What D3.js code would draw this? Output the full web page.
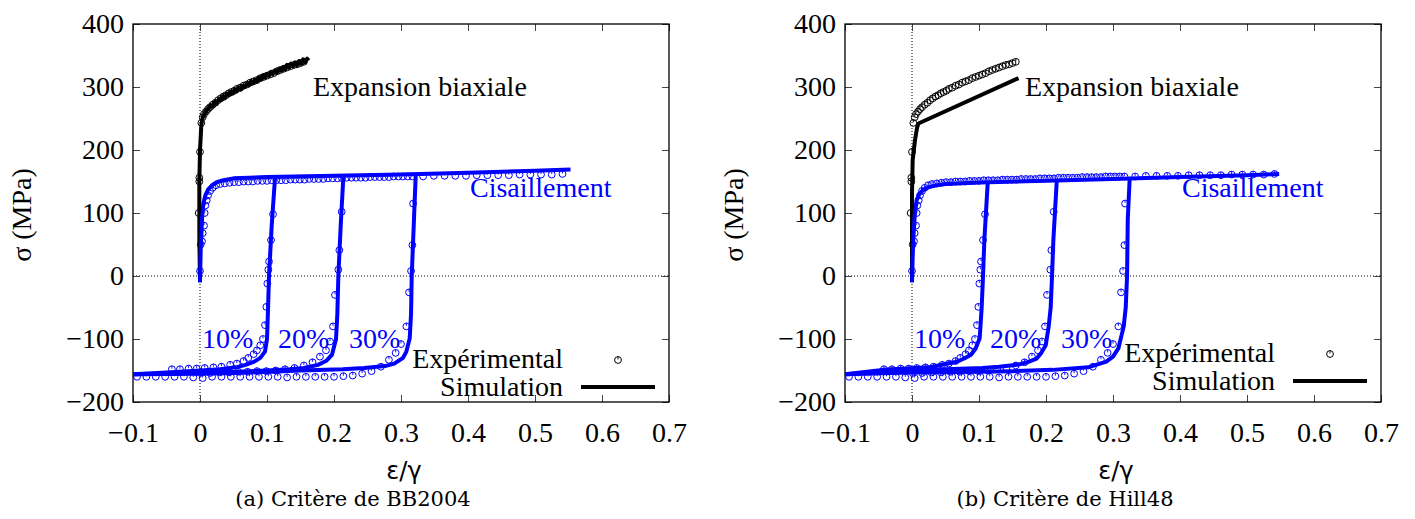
<!DOCTYPE html>
<html>
<head>
<meta charset="utf-8">
<script src="https://cdn.jsdelivr.net/npm/d3@7"></script>
<style>
body { margin: 0; background: #fff; }
</style>
</head>
<body>
<script>
// axis ticks
var xTicks = [-0.1, 0, 0.1, 0.2, 0.3, 0.4, 0.5, 0.6, 0.7];
var yTicks = [-200, -100, 0, 100, 200, 300, 400];

// experimental points (same tests in both panels)  [strain, stress MPa]
var biaxExp = [[-0.002,100],[-0.001,150],[-0.001,156],[0.0,197],[0.002,243],[0.004,252],[0.006,257],[0.009,261],[0.012,265],[0.015,268],[0.019,272],[0.023,275],[0.027,279],[0.031,282],[0.035,285],[0.039,287],[0.043,290],[0.047,292],[0.051,294],[0.055,297],[0.06,299],[0.065,302],[0.07,304],[0.075,307],[0.08,309],[0.085,311],[0.09,314],[0.095,316],[0.1,318],[0.105,320],[0.11,322],[0.115,325],[0.12,327],[0.125,329],[0.13,331],[0.135,333],[0.14,335],[0.145,336],[0.15,338],[0.155,340]];
var shearExp = [[0.0,8],[0.001,50],[0.003,55],[0.004,68],[0.006,80],[0.007,100],[0.008,112],[0.01,120],[0.012,128],[0.015,135],[0.019,140],[0.024,144],[0.03,146],[0.037,147],[0.044,148],[0.051,149],[0.058,149],[0.065,150],[0.072,150],[0.079,150],[0.086,151],[0.093,151],[0.1,151],[0.107,152],[0.114,152],[0.121,152],[0.128,152],[0.135,153],[0.142,153],[0.149,153],[0.156,153],[0.163,154],[0.17,154],[0.177,154],[0.184,154],[0.191,155],[0.198,155],[0.205,155],[0.212,155],[0.219,156],[0.226,156],[0.233,156],[0.24,156],[0.247,156],[0.254,157],[0.261,157],[0.268,157],[0.275,157],[0.282,157],[0.289,158],[0.296,158],[0.303,158],[0.31,158],[0.317,158],[0.333,158],[0.349,159],[0.365,159],[0.381,159],[0.397,159],[0.413,160],[0.429,160],[0.445,160],[0.461,160],[0.477,161],[0.493,161],[0.509,161],[0.525,161],[0.541,162]];
var cyc10Exp = [[0.109,98],[0.106,57],[0.103,23],[0.102,10],[0.1005,-12],[0.099,-49],[0.097,-78],[0.094,-100],[0.09,-110],[0.085,-118],[0.08,-124],[0.072,-130],[0.065,-135],[0.055,-139],[0.045,-141],[0.032,-144],[0.02,-145],[0.007,-146],[-0.005,-147],[-0.017,-147],[-0.03,-148],[-0.042,-148]];
var cyc20Exp = [[0.2115,102],[0.208,41],[0.2065,10],[0.2015,-30],[0.1985,-80],[0.194,-104],[0.188,-118],[0.179,-128],[0.168,-137],[0.155,-142],[0.141,-146],[0.127,-148],[0.113,-150],[0.099,-151],[0.085,-151],[0.071,-152],[0.057,-152],[0.043,-153],[0.029,-153],[0.015,-154],[0.001,-154]];
var cyc30Exp = [[0.318,115],[0.317,49],[0.315,8],[0.312,-26],[0.308,-80],[0.3,-108],[0.292,-122],[0.282,-133],[0.27,-144],[0.256,-151],[0.242,-155],[0.228,-158],[0.214,-159],[0.2,-160],[0.186,-160],[0.172,-160],[0.158,-160],[0.144,-160],[0.13,-161],[0.116,-160],[0.102,-160],[0.088,-160],[0.074,-160],[0.06,-160],[0.046,-160],[0.032,-160],[0.018,-160],[0.004,-162],[-0.01,-161],[-0.024,-160],[-0.038,-160],[-0.052,-160],[-0.066,-160],[-0.08,-160],[-0.094,-160]];

// simulation, BB2004 criterion
var bbBiaxSim = [[0,-10],[-0.001,60],[-0.001,150],[0.0,200],[0.002,240],[0.004,252],[0.007,258],[0.010,263],[0.013,266],[0.016,271],[0.019,269],[0.022,276],[0.025,274],[0.028,280],[0.031,279],[0.034,285],[0.037,282],[0.040,289],[0.043,287],[0.046,292],[0.049,290],[0.052,296],[0.055,293],[0.058,299],[0.061,296],[0.064,302],[0.067,300],[0.070,305],[0.073,303],[0.076,309],[0.079,306],[0.082,311],[0.085,309],[0.088,315],[0.091,312],[0.094,318],[0.097,315],[0.100,320],[0.103,318],[0.106,324],[0.109,321],[0.112,326],[0.115,323],[0.118,329],[0.121,326],[0.124,331],[0.127,328],[0.130,335],[0.133,331],[0.136,337],[0.139,333],[0.142,339],[0.145,335],[0.148,341],[0.151,337],[0.154,344],[0.157,339],[0.160,345],[0.162,342]];
var bbShearSim = [[0.0,-10],[0.001,40],[0.003,90],[0.005,115],[0.008,128],[0.012,137],[0.018,144],[0.025,149],[0.035,152],[0.05,155],[0.1,157],[0.2,159],[0.3,161],[0.4,164],[0.5,167],[0.553,169]];
var bbCyc10Sim = [[0.112,156],[0.107,80],[0.103,0],[0.101,-70],[0.1,-100],[0.097,-120],[0.09,-130],[0.081,-136],[0.068,-141],[0.054,-145],[0.03,-148],[0.0,-150],[-0.05,-153],[-0.1,-156]];
var bbCyc20Sim = [[0.214,158],[0.21,80],[0.2065,0],[0.205,-60],[0.203,-100],[0.197,-125],[0.188,-135],[0.176,-141],[0.155,-146],[0.134,-148],[0.1,-150],[0.054,-152],[0.0,-153],[-0.05,-155],[-0.1,-156]];
var bbCyc30Sim = [[0.322,161],[0.319,80],[0.316,0],[0.315,-60],[0.313,-99],[0.308,-120],[0.303,-130],[0.29,-139],[0.276,-143],[0.245,-146],[0.213,-148],[0.15,-150],[0.107,-152],[0.05,-154],[0.0,-155],[-0.1,-156]];

// simulation, Hill48 criterion
var hillBiaxSim = [[0,-10],[0,60],[0,131],[0.001,184],[0.0045,216],[0.0075,235],[0.0095,242],[0.159,314]];
var hillShearSim = [[0,-10],[0.001,30],[0.002,60],[0.004,95],[0.007,121],[0.011,130],[0.017,137],[0.025,141],[0.037,144],[0.05,146],[0.067,147],[0.1,148.5],[0.2,151],[0.3,154],[0.4,157],[0.5,160],[0.548,162]];
var hillCyc10Sim = [[0.113,148],[0.108,57],[0.106,0],[0.104,-50],[0.101,-99],[0.095,-115],[0.088,-125],[0.078,-131],[0.067,-136],[0.045,-141],[0.025,-145],[-0.044,-149],[-0.1,-156]];
var hillCyc20Sim = [[0.216,150],[0.211,57],[0.209,0],[0.207,-50],[0.204,-80],[0.1996,-110],[0.193,-122],[0.186,-131],[0.172,-137],[0.157,-141],[0.13,-144],[0.105,-146],[0.05,-148],[0.0,-150],[-0.1,-156]];
var hillCyc30Sim = [[0.325,157],[0.322,89],[0.321,0],[0.319,-50],[0.316,-80],[0.308,-115],[0.30,-128],[0.29,-136],[0.263,-145],[0.21,-149],[0.15,-151],[0.1,-152],[0.0,-153],[-0.1,-156]];

var blue = '#0000ff';
var SERIF = '"Liberation Serif"';
var W = 1415, H = 519;

var svg = d3.select('body').append('svg')
  .attr('width', W)
  .attr('height', H);

function fmtX(d) {
  return d === 0 ? '0' : d3.format('.1f')(d).replace('-', '\u2212');
}

function drawPanel(p) {
  var x = d3.scaleLinear().domain([-0.1, 0.7]).range([p.left, p.left + 536]);
  var y = d3.scaleLinear().domain([-200, 400]).range([402, 24]);
  var g = svg.append('g');

  // dotted zero axes
  g.append('line')
    .attr('x1', x(0)).attr('x2', x(0)).attr('y1', y(-200)).attr('y2', y(400))
    .attr('stroke', '#000').attr('stroke-width', 1).attr('stroke-dasharray', '1,2');
  g.append('line')
    .attr('x1', x(-0.1)).attr('x2', x(0.7)).attr('y1', y(0)).attr('y2', y(0))
    .attr('stroke', '#000').attr('stroke-width', 1).attr('stroke-dasharray', '1,2');

  // axes, ticks mirrored on all sides
  var ax = [
    [d3.axisBottom(x).tickValues(xTicks).tickSize(-7).tickPadding(20).tickFormat(fmtX), 'translate(0,' + y(-200) + ')'],
    [d3.axisTop(x).tickValues(xTicks).tickSize(-7).tickFormat(''), 'translate(0,' + y(400) + ')'],
    [d3.axisLeft(y).tickValues(yTicks).tickSize(-7).tickPadding(9).tickFormat(d3.format('d')), 'translate(' + x(-0.1) + ',0)'],
    [d3.axisRight(y).tickValues(yTicks).tickSize(-7).tickFormat(''), 'translate(' + x(0.7) + ',0)']
  ];
  ax.forEach(function(a) {
    var ag = g.append('g').attr('transform', a[1]).call(a[0]);
    ag.select('.domain').remove();
    ag.attr('font-family', null);
    ag.selectAll('line').attr('stroke', '#444').attr('stroke-width', 1);
    ag.selectAll('text')
      .style('font-family', SERIF)
      .style('font-size', '28px')
      .attr('fill', '#000');
  });

  g.append('rect')
    .attr('x', x(-0.1)).attr('y', y(400))
    .attr('width', x(0.7) - x(-0.1)).attr('height', y(-200) - y(400))
    .attr('fill', 'none').attr('stroke', '#000').attr('stroke-width', 1.3);

  var line = d3.line().x(function(d) { return x(d[0]); }).y(function(d) { return y(d[1]); });

  function points(data, color) {
    var pg = g.append('g').selectAll('g').data(data).enter().append('g')
      .attr('transform', function(d) { return 'translate(' + x(d[0]) + ',' + y(d[1]) + ')'; });
    pg.append('circle').attr('r', 3.4).attr('fill', 'none').attr('stroke', color).attr('stroke-width', 1);
    pg.append('line').attr('x1', 0).attr('x2', 0).attr('y1', -3.4).attr('y2', -0.5)
      .attr('stroke', color).attr('stroke-width', 0.9);
  }

  function curve(data, color) {
    g.append('path').datum(data).attr('d', line)
      .attr('fill', 'none').attr('stroke', color).attr('stroke-width', 4)
      .attr('stroke-linejoin', 'round');
  }

  points(biaxExp, '#000');
  points(shearExp, blue);
  points(cyc10Exp, blue);
  points(cyc20Exp, blue);
  points(cyc30Exp, blue);
  curve(p.biax, '#000');
  curve(p.shear, blue);
  p.cycles.forEach(function(c) { curve(c, blue); });

  // annotations
  var off = p.left - 133;
  function label(tx, ty, s, color, anchor) {
    g.append('text').attr('x', tx + off).attr('y', ty).attr('fill', color)
      .attr('text-anchor', anchor || 'start')
      .style('font-family', SERIF)
      .style('font-size', '28px').text(s);
  }
  label(p.biaxLabel[0], p.biaxLabel[1], 'Expansion biaxiale', '#000');
  label(470, 197, 'Cisaillement', blue);
  label(202, 348, '10%', blue);
  label(278, 348, '20%', blue);
  label(349, 348, '30%', blue);

  // key
  label(563, p.keyY[0], 'Expérimental', '#000', 'end');
  label(563, p.keyY[1], 'Simulation', '#000', 'end');
  var kx = 618 + off;
  var kp = g.append('g').attr('transform', 'translate(' + kx + ',' + (p.keyY[0] - 8) + ')');
  kp.append('circle').attr('r', 3.4).attr('fill', 'none').attr('stroke', '#000').attr('stroke-width', 1);
  kp.append('line').attr('x1', 0).attr('x2', 0).attr('y1', -3.4).attr('y2', -0.5).attr('stroke', '#000').attr('stroke-width', 0.9);
  g.append('line')
    .attr('x1', 581 + off).attr('x2', 655 + off)
    .attr('y1', p.keyY[1] - 9).attr('y2', p.keyY[1] - 9)
    .attr('stroke', '#000').attr('stroke-width', 4);

  // axis titles
  g.append('text')
    .attr('transform', 'translate(' + (21 + off) + ',215) rotate(-90)')
    .attr('text-anchor', 'middle').attr('dy', '0.35em')
    .style('font-family', SERIF)
    .style('font-size', '28px').text('σ (MPa)');
  g.append('text')
    .attr('x', (x(-0.1) + x(0.7)) / 2 + 3).attr('y', 479)
    .attr('text-anchor', 'middle')
    .style('font-family', '"DejaVu Sans"')
    .style('font-size', '24px').text('ε/γ');
  g.append('text')
    .attr('x', 353 + off).attr('y', 506)
    .attr('text-anchor', 'middle')
    .style('font-family', '"DejaVu Serif"')
    .style('font-size', '21px').text(p.caption);
}

drawPanel({
  left: 133,
  biax: bbBiaxSim,
  shear: bbShearSim,
  cycles: [bbCyc10Sim, bbCyc20Sim, bbCyc30Sim],
  biaxLabel: [313, 96],
  keyY: [368, 396],
  caption: '(a) Critère de BB2004'
});

drawPanel({
  left: 845,
  biax: hillBiaxSim,
  shear: hillShearSim,
  cycles: [hillCyc10Sim, hillCyc20Sim, hillCyc30Sim],
  biaxLabel: [313, 96],
  keyY: [362, 390],
  caption: '(b) Critère de Hill48'
});
</script>
</body>
</html>
